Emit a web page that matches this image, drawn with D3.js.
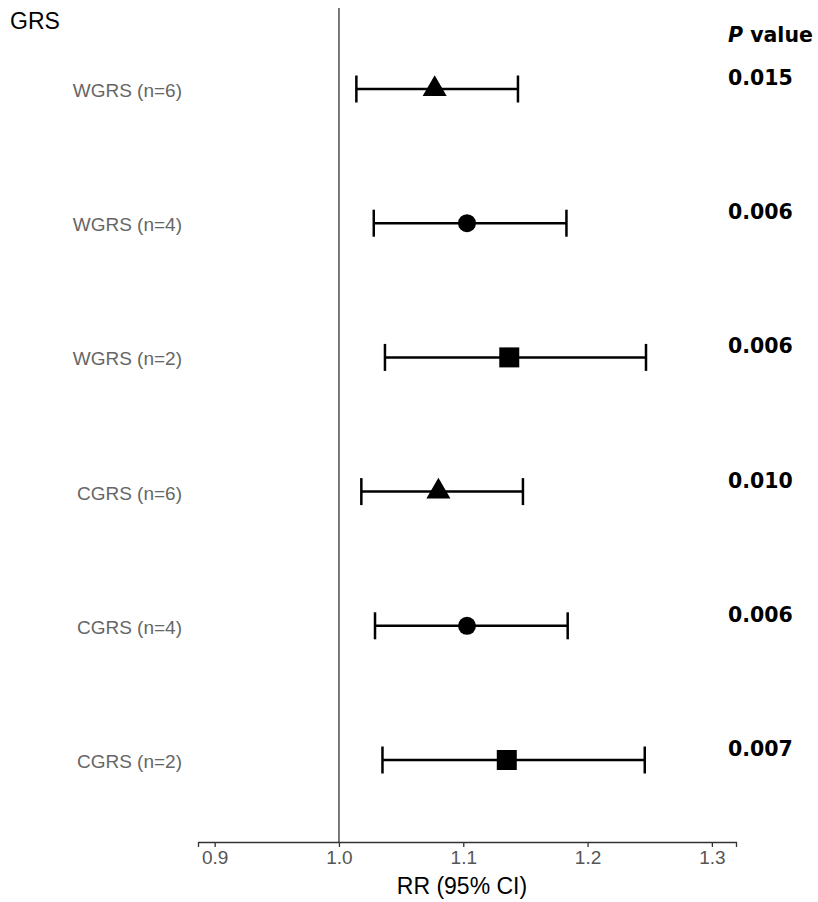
<!DOCTYPE html>
<html>
<head>
<meta charset="utf-8">
<script src="https://cdn.jsdelivr.net/npm/d3@7"></script>
<style>
  html, body { margin: 0; padding: 0; background: #fff; }
  svg { display: block; }
</style>
</head>
<body>
<svg id="chart" width="818" height="902"></svg>
<script>
// Genetic risk score models, top to bottom
const labels = ["WGRS (n=6)", "WGRS (n=4)", "WGRS (n=2)", "CGRS (n=6)", "CGRS (n=4)", "CGRS (n=2)"];
// Relative risk and 95% confidence limits
const rr    = [1.077, 1.103, 1.137, 1.080, 1.103, 1.135];
const lower = [1.014, 1.028, 1.037, 1.018, 1.029, 1.035];
const upper = [1.144, 1.183, 1.247, 1.148, 1.184, 1.246];
const pValues = ["0.015", "0.006", "0.006", "0.010", "0.006", "0.007"];
const shapes = ["triangle", "circle", "square", "triangle", "circle", "square"];
const xTicks = [0.9, 1.0, 1.1, 1.2, 1.3];

const svg = d3.select("#chart");

const x = d3.scaleLinear().domain([0.8866, 1.3194]).range([198, 736]);
const y = d3.scalePoint().domain(labels).range([89, 760]);
const axisY = 842;

const symbolTypes = { triangle: d3.symbolTriangle, circle: d3.symbolCircle, square: d3.symbolSquare };
const symbolSizes = { triangle: 250, circle: 254, square: 400 };

// Reference line at RR = 1
svg.append("line")
  .attr("x1", x(1)).attr("x2", x(1))
  .attr("y1", 8).attr("y2", axisY)
  .attr("stroke", "#333").attr("stroke-width", 1.3);

// Bottom axis
const axis = svg.append("g")
  .attr("transform", `translate(0,${axisY})`)
  .call(d3.axisBottom(x).tickValues(xTicks).tickFormat(d3.format(".1f")).tickSize(5).tickPadding(4));
axis.select(".domain").attr("stroke", "#333").attr("stroke-width", 1.3);
axis.selectAll(".tick line").attr("stroke", "#333").attr("stroke-width", 1.3);
axis.selectAll(".tick text")
  .attr("fill", "#555")
  .style("font-family", "'Liberation Sans', Arial, sans-serif")
  .style("font-size", "19px");

svg.append("text")
  .attr("x", 462).attr("y", 894)
  .attr("text-anchor", "middle")
  .style("font-family", "'Liberation Sans', Arial, sans-serif")
  .style("font-size", "23px")
  .attr("fill", "#000")
  .text("RR (95% CI)");

// Header
svg.append("text")
  .attr("x", 10).attr("y", 29)
  .style("font-family", "'Liberation Sans', Arial, sans-serif")
  .style("font-size", "23px")
  .attr("fill", "#000")
  .text("GRS");

const pHead = svg.append("text")
  .attr("x", 728).attr("y", 42)
  .style("font-family", "'DejaVu Sans', sans-serif")
  .style("font-size", "20.5px")
  .style("font-weight", "bold")
  .attr("fill", "#000");
pHead.append("tspan").style("font-style", "italic").text("P");
pHead.append("tspan").text(" value");

// Rows
const rows = svg.append("g").selectAll("g")
  .data(labels.map((l, i) => ({ label: l, rr: rr[i], lo: lower[i], hi: upper[i], p: pValues[i], shape: shapes[i] })))
  .join("g");

rows.append("text")
  .attr("x", 182).attr("y", d => y(d.label) + 8)
  .attr("text-anchor", "end")
  .style("font-family", "'Liberation Sans', Arial, sans-serif")
  .style("font-size", "19px")
  .attr("fill", "#666")
  .text(d => d.label);

rows.append("line")
  .attr("x1", d => x(d.lo)).attr("x2", d => x(d.hi))
  .attr("y1", d => y(d.label)).attr("y2", d => y(d.label))
  .attr("stroke", "#000").attr("stroke-width", 2.5);

rows.selectAll(".cap")
  .data(d => [{ v: d.lo, yy: y(d.label) }, { v: d.hi, yy: y(d.label) }])
  .join("line")
  .attr("class", "cap")
  .attr("x1", c => x(c.v)).attr("x2", c => x(c.v))
  .attr("y1", c => c.yy - 13.5).attr("y2", c => c.yy + 13.5)
  .attr("stroke", "#000").attr("stroke-width", 2.5);

rows.append("path")
  .attr("transform", d => `translate(${x(d.rr)},${y(d.label)})`)
  .attr("d", d => d3.symbol().type(symbolTypes[d.shape]).size(symbolSizes[d.shape])())
  .attr("fill", "#000");

rows.append("text")
  .attr("x", 728).attr("y", d => y(d.label) - 4)
  .style("font-family", "'DejaVu Sans', sans-serif")
  .style("font-size", "20.5px")
  .style("font-weight", "bold")
  .attr("fill", "#000")
  .text(d => d.p);
</script>
</body>
</html>
